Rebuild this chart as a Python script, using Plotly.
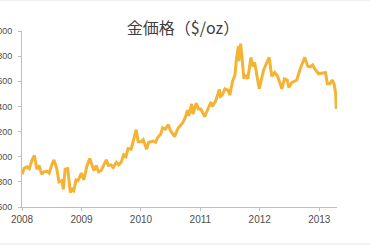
import plotly.graph_objects as go

dates = [
    "2008-01-02", "2008-01-15", "2008-02-01", "2008-02-15", "2008-03-03", "2008-03-17",
    "2008-04-01", "2008-04-15", "2008-05-01", "2008-05-15", "2008-06-02", "2008-06-16",
    "2008-07-01", "2008-07-15", "2008-08-01", "2008-08-15", "2008-09-02", "2008-09-11",
    "2008-09-22", "2008-10-08", "2008-10-24", "2008-11-05", "2008-11-14", "2008-11-28",
    "2008-12-10", "2008-12-31", "2009-01-15", "2009-02-02", "2009-02-20", "2009-03-06",
    "2009-03-18", "2009-04-01", "2009-04-15", "2009-05-01", "2009-05-15", "2009-06-02",
    "2009-06-15", "2009-07-01", "2009-07-14", "2009-08-03", "2009-08-17", "2009-09-01",
    "2009-09-17", "2009-10-01", "2009-10-14", "2009-11-02", "2009-11-16", "2009-12-03",
    "2009-12-15", "2010-01-04", "2010-01-15", "2010-02-05", "2010-02-17", "2010-03-01",
    "2010-03-17", "2010-04-01", "2010-04-15", "2010-05-03", "2010-05-14", "2010-06-01",
    "2010-06-18", "2010-07-01", "2010-07-27", "2010-08-16", "2010-09-01", "2010-09-15",
    "2010-10-01", "2010-10-14", "2010-10-22", "2010-11-09", "2010-11-17", "2010-12-07",
    "2010-12-20", "2011-01-04", "2011-01-28", "2011-02-15", "2011-03-07", "2011-03-16",
    "2011-04-04", "2011-04-28", "2011-05-05", "2011-05-16", "2011-06-01", "2011-06-20",
    "2011-07-01", "2011-07-18", "2011-08-02", "2011-08-11", "2011-08-23", "2011-08-25",
    "2011-09-06", "2011-09-26", "2011-10-04", "2011-10-20", "2011-11-08", "2011-11-17",
    "2011-12-01", "2011-12-29", "2012-01-10", "2012-01-25", "2012-02-28", "2012-03-15",
    "2012-04-02", "2012-04-20", "2012-05-16", "2012-06-01", "2012-06-18", "2012-06-28",
    "2012-07-16", "2012-08-01", "2012-08-16", "2012-09-06", "2012-10-04", "2012-10-22",
    "2012-11-06", "2012-11-22", "2012-12-03", "2012-12-28", "2013-01-11", "2013-01-25",
    "2013-02-08", "2013-02-20", "2013-03-08", "2013-03-22", "2013-04-02", "2013-04-12",
    "2013-04-16",
]
prices = [
    860, 910, 920, 905, 975, 1010,
    900, 930, 860, 880, 885, 870,
    930, 975, 910, 800, 810, 740,
    900, 905, 715, 740, 730, 815,
    810, 870, 815, 920, 985, 940,
    890, 930, 880, 890, 930, 975,
    930, 935, 915, 955, 935, 955,
    1015, 1000, 1065, 1060, 1130, 1215,
    1120, 1120, 1135, 1060, 1115, 1120,
    1125, 1115, 1155, 1180, 1230, 1220,
    1255, 1210, 1160, 1225, 1250, 1270,
    1315, 1370, 1325, 1420, 1340, 1425,
    1380, 1380, 1320, 1370, 1435, 1400,
    1440, 1535, 1480, 1490, 1540, 1530,
    1490, 1600, 1650, 1780, 1880, 1760,
    1900, 1620, 1650, 1620, 1790, 1720,
    1750, 1540, 1620, 1690, 1790, 1640,
    1670, 1640, 1540, 1620, 1610, 1550,
    1590, 1600, 1610, 1700, 1790, 1720,
    1715, 1730, 1700, 1660, 1665, 1670,
    1670, 1580, 1580, 1610, 1580, 1500,
    1380,
]
y_ticks = [600, 800, 1000, 1200, 1400, 1600, 1800, 2000]
x_ticks = ["2008-01-01", "2009-01-01", "2010-01-01", "2011-01-01", "2012-01-01", "2013-01-01"]
x_labels = ["2008", "2009", "2010", "2011", "2012", "2013"]
title_text = "金価格（$/oz）"

fig = go.Figure()
fig.add_trace(go.Scatter(
    x=dates, y=prices, mode="lines",
    line=dict(color="#F5B335", width=3),
    showlegend=False, hoverinfo="skip",
))

axis_common = dict(
    showgrid=False, zeroline=False, automargin=False,
    showline=True, linecolor="#BFBFBF", linewidth=1,
    ticks="outside", ticklen=3, tickcolor="#BFBFBF",
)

fig.update_layout(
    width=370, height=245,
    margin=dict(l=22, r=33, t=31, b=38),
    paper_bgcolor="white", plot_bgcolor="white",
    title=dict(
        text=title_text, x=183 / 370, xref="container", xanchor="center",
        y=1 - 28 / 245, yref="container", yanchor="middle",
        font=dict(family="Noto Sans CJK JP", size=16, color="#404040"),
    ),
    xaxis=dict(
        range=["2008-01-01", "2013-04-20"],
        tickvals=x_ticks, ticktext=x_labels,
        tickfont=dict(family="Liberation Sans, Arial", size=10, color="#4D4D4D"),
        **axis_common,
    ),
    yaxis=dict(
        range=[600, 2000], tickvals=y_ticks,
        ticklabelstandoff=4,
        tickfont=dict(family="Liberation Sans, Arial", size=9, color="#4D4D4D"),
        **axis_common,
    ),
    shapes=[
        dict(type="line", xref="paper", yref="paper", x0=-0.1, x1=1.2,
             y0=(207 - 244) / 176, y1=(207 - 244) / 176,
             line=dict(color="#E6E6E6", width=1)),
        dict(type="line", xref="paper", yref="paper", x0=-0.1, x1=1.2,
             y0=(207 - 0.5) / 176, y1=(207 - 0.5) / 176,
             line=dict(color="#EEEEEE", width=1)),
    ],
)

fig.write_html("out.html")
